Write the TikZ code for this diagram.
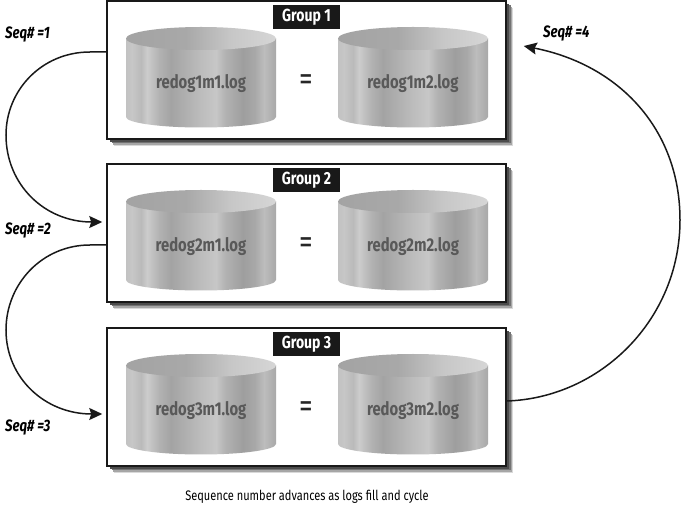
\documentclass[tikz,border=0pt]{standalone}
\usepackage{fontspec}
\usepackage{xcolor}
\usepackage{tikz}
\usetikzlibrary{arrows.meta,positioning,calc}
\newfontfamily\logfont[FakeStretch=0.8]{Fira Sans}
\pgfdeclarehorizontalshading{logbody}{100bp}{
  color(0bp)=(black!24); color(25bp)=(black!24); color(27bp)=(black!22); color(30bp)=(black!27); color(32bp)=(black!20);
  color(36bp)=(black!30); color(40bp)=(black!36); color(44bp)=(black!32); color(50bp)=(black!26);
  color(55bp)=(black!22); color(58bp)=(black!30); color(64bp)=(black!38); color(68bp)=(black!34);
  color(71bp)=(black!26); color(75bp)=(black!34); color(100bp)=(black!34)}
\pgfdeclarehorizontalshading{logtop}{100bp}{
  color(0bp)=(black!36); color(25bp)=(black!36); color(45bp)=(black!34); color(60bp)=(black!22); color(75bp)=(black!16); color(100bp)=(black!16)}
\begin{document}
\begin{tikzpicture}[
  x=1pt, y=-1pt,
  shadowstep/.style args={#1 at #2}{preaction={draw=none, fill=black!#1, transform canvas={shift={(#2pt,-#2pt)}}}},
  groupbox/.style={rectangle, shadowstep=15 at 7, shadowstep=35 at 6, shadowstep=55 at 4.5, shadowstep=70 at 3, draw=black!90, line width=1.5pt, fill=white, minimum width=399pt, minimum height=138pt, inner sep=0pt},
  grouptag/.style={rectangle, fill=black!90, text=white, font=\logfont\bfseries\fontsize{17.5}{17.5}\selectfont, minimum width=67pt, minimum height=24pt, inner sep=0pt},
  logname/.style={text=black!65, font=\logfont\bfseries\fontsize{18.5}{18.5}\selectfont, inner sep=0pt},
  equal/.style={text=black!85, font=\logfont\fontsize{34}{34}\selectfont, inner sep=0pt},
  seqlabel/.style={text=black, font=\logfont\bfseries\itshape\fontsize{16.5}{16.5}\selectfont, inner sep=0pt},
  caption/.style={text=black, font=\logfont\fontsize{13.8}{15}\selectfont, inner sep=0pt},
  link/.style={line width=1.5pt, black!90},
  logdisk/.pic={
    \shade[shading=logbody] (-75,-44.5) -- (-75,34) arc[start angle=180, end angle=0, x radius=75, y radius=10.5] -- (75,-44.5) -- cycle;
    \shade[shading=logtop] (0,-44.5) ellipse [x radius=75, y radius=11.5];
  }
]
  \useasboundingbox (0,0) rectangle (683,510);

  % Three groups: box, tag, two members
  \foreach \g/\ypos in {1/70,2/233,3/397}{
    \node[groupbox] (group\g) at (306.5,\ypos) {};
    \node[grouptag] (tag\g) at ($(group\g.north)+(0,17)$) {Group \g};
    \pic at ($(group\g.center)+(-105.5,13)$) {logdisk};
    \pic at ($(group\g.center)+(106.5,13)$) {logdisk};
    \node[logname] (log\g m1) at ($(group\g.center)+(-105.5,13.5)$) {redog\g m1.log};
    \node[logname] (log\g m2) at ($(group\g.center)+(106.5,13.5)$) {redog\g m2.log};
    \node[equal] (equal\g) at ($(group\g.center)+(0,13)$) {=};
  }

  % Sequence labels
  \node[seqlabel, anchor=west] (seq1) at (5,34) {Seq\# =1};
  \node[seqlabel, anchor=west] (seq2) at (5,230) {Seq\# =2};
  \node[seqlabel, anchor=west] (seq3) at (5,427) {Seq\# =3};
  \node[seqlabel, anchor=west] (seq4) at (543,33) {Seq\# =4};

  % Free ends of the arrows
  \coordinate (out1) at ($(group1.west)+(0,-18)$);
  \coordinate (in2) at ($(group2.west)+(-4,-11)$);
  \coordinate (out2) at ($(group2.west)+(0,12)$);
  \coordinate (in3) at ($(group3.west)+(-4,17)$);
  \coordinate (out3) at ($(group3.east)+(0,4)$);
  \coordinate (in1) at ($(group1.east)+(17,-24)$);

  % Connections
  \draw[link, -{Stealth[length=13pt, width=12pt, inset=2pt]}] (out1) -- (90,52) .. controls (42,52) and (6,90) .. (6,135) .. controls (6,185) and (45,222) .. (in2);
  \draw[link, -{Stealth[length=13pt, width=12pt, inset=2pt]}] (out2) -- (90,245) .. controls (42,245) and (6,284) .. (6,330) .. controls (6,378) and (45,414) .. (in3);
  \draw[link, -{Stealth[length=13pt, width=12pt, inset=2pt]}] (out3) .. controls (600,398) and (680,320) .. (680,220) .. controls (680,130) and (620,65) .. (in1);

  % Caption
  \node[caption] (note) at (307,497) {Sequence number advances as logs fill and cycle};
\end{tikzpicture}
\end{document}
